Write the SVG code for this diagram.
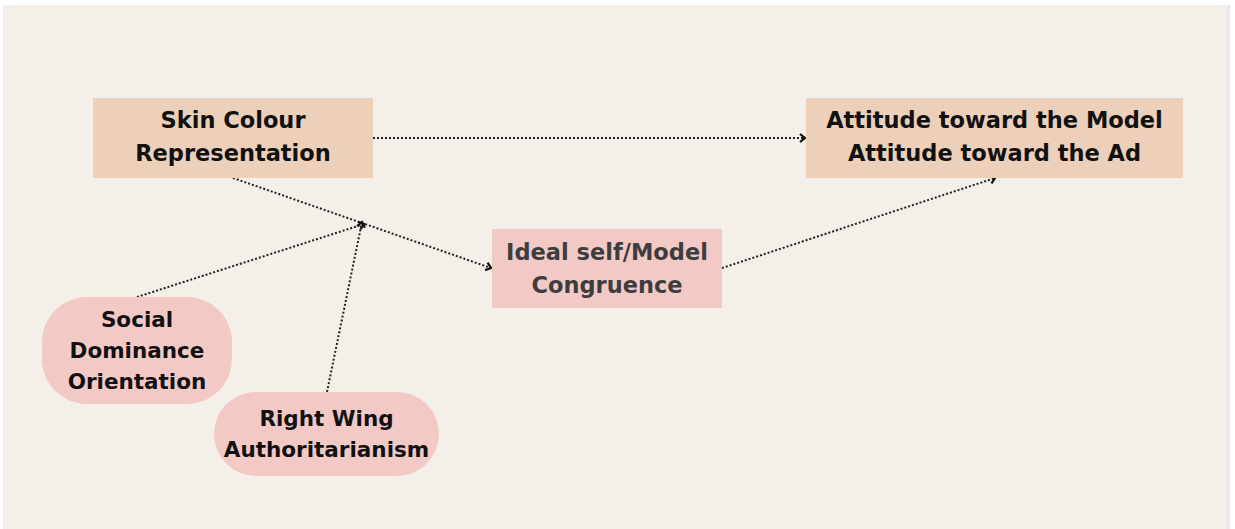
<svg xmlns="http://www.w3.org/2000/svg" width="1235" height="529" viewBox="0 0 1235 529">
<defs>
<style>
.t{font-family:"DejaVu Sans","Open Sans",sans-serif;font-weight:700;font-size:22.5px;text-anchor:middle;fill:#111}
.s{font-size:21.5px}
.g{fill:#3d3d3d}
.c{fill:none;stroke:#222;stroke-width:2;stroke-dasharray:2 2}
.tan{fill:#edd0b9}
.pink{fill:#f3c9c6}
</style>
<marker id="ah" viewBox="0 0 10 10" refX="8" refY="5" markerWidth="10" markerHeight="10" markerUnits="userSpaceOnUse" orient="auto">
<path d="M3,1 L8,5 L3,9" fill="none" stroke="#111" stroke-width="2.2"/>
</marker>
</defs>
<rect x="0" y="0" width="1235" height="529" fill="#ffffff"/>
<rect x="3" y="5" width="1224" height="524" fill="#f4efe9"/>
<rect x="1227" y="5" width="3" height="524" fill="#e6e6ec"/>
<g id="connectors">
<line class="c" x1="373" y1="138" x2="805" y2="138" marker-end="url(#ah)"/>
<line class="c" x1="233" y1="178" x2="491" y2="268" marker-end="url(#ah)"/>
<line class="c" x1="137" y1="297" x2="364" y2="224" marker-end="url(#ah)"/>
<line class="c" x1="327" y1="392" x2="362" y2="222" marker-end="url(#ah)"/>
<line class="c" x1="722" y1="268" x2="995" y2="178" marker-end="url(#ah)"/>
</g>
<g id="skin">
<rect class="tan" x="93" y="98" width="280" height="80"/>
<text class="t" x="233" y="128">Skin Colour</text>
<text class="t" x="233" y="161">Representation</text>
</g>
<g id="attitude">
<rect class="tan" x="806" y="98" width="377" height="80"/>
<text class="t" x="994.5" y="128">Attitude toward the Model</text>
<text class="t" x="994.5" y="161">Attitude toward the Ad</text>
</g>
<g id="ideal">
<rect class="pink" x="492" y="229" width="230" height="79"/>
<text class="t g" x="607" y="260">Ideal self/Model</text>
<text class="t g" x="607" y="293">Congruence</text>
</g>
<g id="sdo">
<rect class="pink" x="42" y="297" width="190" height="107" rx="45"/>
<text class="t s" x="137" y="327">Social</text>
<text class="t s" x="137" y="358">Dominance</text>
<text class="t s" x="137" y="389">Orientation</text>
</g>
<g id="rwa">
<rect class="pink" x="214" y="392" width="225" height="84" rx="42"/>
<text class="t s" x="326.5" y="426">Right Wing</text>
<text class="t s" x="326.5" y="457">Authoritarianism</text>
</g>
</svg>
